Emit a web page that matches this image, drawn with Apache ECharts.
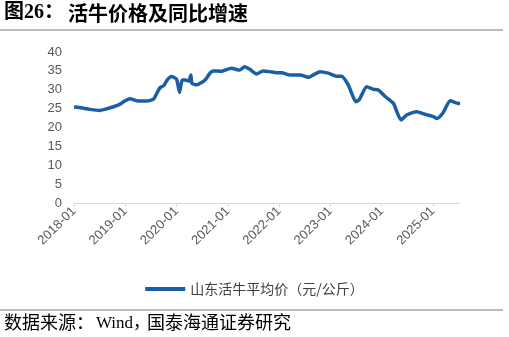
<!DOCTYPE html>
<html><head><meta charset="utf-8">
<script src="https://cdn.jsdelivr.net/npm/echarts@6/dist/echarts.min.js"></script>
<style>html,body{margin:0;padding:0;background:#fff}#c{width:509px;height:337px}</style>
</head><body><div id="c"></div>
<script>
// fractional year positions (2018.0 = 2018-01)
const times = [2018.0,2018.1,2018.31,2018.5,2018.6,2018.77,2018.9,2019.0,2019.09,2019.25,2019.42,2019.55,2019.62,2019.68,2019.75,2019.82,2019.9,2020.0,2020.06,2020.11,2020.17,2020.24,2020.28,2020.3,2020.4,2020.5,2020.56,2020.66,2020.72,2020.88,2021.07,2021.23,2021.33,2021.43,2021.56,2021.69,2021.82,2021.95,2022.05,2022.21,2022.41,2022.57,2022.8,2022.96,2023.13,2023.22,2023.35,2023.5,2023.57,2023.71,2023.84,2023.94,2024.07,2024.23,2024.38,2024.49,2024.69,2024.82,2025.01,2025.08,2025.2,2025.34,2025.44,2025.53];
const prices = [25.4,25.3,24.8,24.5,24.8,25.5,26.2,27.1,27.6,27.0,27.0,27.5,29.2,30.6,31.1,32.6,33.5,32.8,29.3,32.6,32.6,32.3,33.9,31.7,31.3,32.0,32.6,34.5,35.0,34.9,35.7,35.2,36.1,35.4,34.2,35.0,34.8,34.5,34.5,33.9,33.9,33.3,34.8,34.4,33.6,33.6,31.3,26.8,27.5,30.8,30.1,29.9,28.2,26.4,22.0,23.3,24.2,23.6,22.9,22.4,23.9,27.1,26.6,26.3];
const yearTicks = [2018,2019,2020,2021,2022,2023,2024,2025];
const seriesName = '山东活牛平均价（元/公斤）';
const titleNum = '图26：';
const titleText = '活牛价格及同比增速';
const sourceParts = ['数据来源：','Wind，','国泰海通证券研究'];

const chart = echarts.init(document.getElementById('c'), null, {renderer:'canvas'});
chart.setOption({
  animation:false,
  backgroundColor:'#fff',
  grid:{left:74,right:49,top:52,bottom:134},
  xAxis:{type:'value',min:2018,max:2025.53,interval:1,
    axisLine:{show:true,lineStyle:{color:'#d9d9d9',width:1}},
    axisTick:{show:true,length:4,lineStyle:{color:'#d9d9d9'}},
    splitLine:{show:false},
    axisLabel:{rotate:45,fontSize:13,color:'#595959',fontFamily:'Liberation Sans, Arial',margin:6,
      showMaxLabel:false,
      formatter:v=> yearTicks.indexOf(Math.round(v))>=0 ? Math.round(v)+'-01' : ''}
  },
  yAxis:{type:'value',min:0,max:40,interval:5,
    axisLine:{show:false},axisTick:{show:false},splitLine:{show:false},
    axisLabel:{fontSize:13,color:'#595959',fontFamily:'Liberation Sans, Arial',margin:12}
  },
  legend:{top:277,left:'center',itemWidth:40,itemHeight:4,itemGap:10,icon:'rect',
    textStyle:{fontSize:14,color:'#404040',fontFamily:'Noto Sans CJK SC'},
    data:[seriesName]},
  series:[{name:seriesName,type:'line',showSymbol:false,symbol:'none',smooth:0.2,
    lineStyle:{color:'#1a5ea6',width:3.5},itemStyle:{color:'#1a5ea6'},
    data:times.map((t,i)=>[t,prices[i]])}],
  graphic:[
    {type:'text',left:4,top:3,style:{text:titleNum,font:'bold 20px "Liberation Serif", "Noto Sans CJK SC"',fill:'#000'}},
    {type:'text',left:68,top:3,style:{text:titleText,font:'bold 20px "Noto Sans CJK SC"',fill:'#000'}},
    {type:'line',shape:{x1:0,y1:30,x2:503,y2:30},style:{stroke:'#a6a6a6',lineWidth:1.5}},
    {type:'line',shape:{x1:0,y1:310,x2:503,y2:310},style:{stroke:'#a6a6a6',lineWidth:1.5}},
    {type:'text',left:4,top:313,style:{text:sourceParts[0],font:'18px "Noto Sans CJK SC"',fill:'#000'}},
    {type:'text',left:96,top:315,style:{text:sourceParts[1],font:'17px "Liberation Serif", "Noto Sans CJK SC"',fill:'#000'}},
    {type:'text',left:147,top:313,style:{text:sourceParts[2],font:'18px "Noto Sans CJK SC"',fill:'#000'}}
  ]
});
</script></body></html>
